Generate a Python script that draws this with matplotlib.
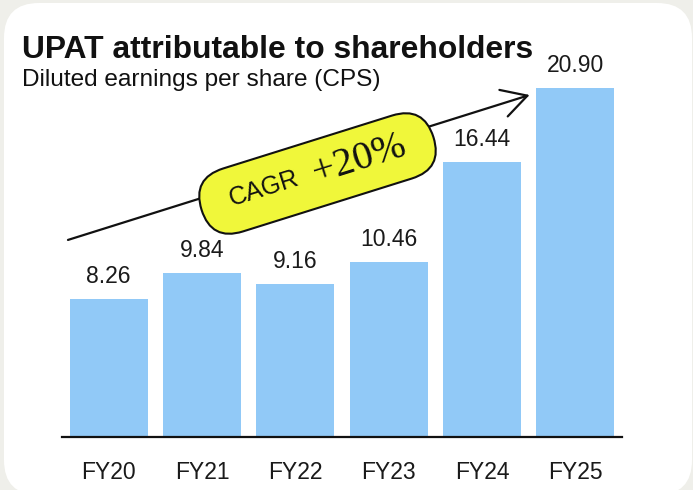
import matplotlib.pyplot as plt
from matplotlib.patches import FancyBboxPatch
from matplotlib.transforms import Affine2D

# data
years = ['FY20', 'FY21', 'FY22', 'FY23', 'FY24', 'FY25']
eps = [8.26, 9.84, 9.16, 10.46, 16.44, 20.90]
eps_labels = ['8.26', '9.84', '9.16', '10.46', '16.44', '20.90']

W, H = 693, 490
plt.rcParams['font.family'] = ['Liberation Sans', 'DejaVu Sans']

fig = plt.figure(figsize=(W / 100, H / 100), dpi=100)
fig.patch.set_facecolor('#efefea')

# white card behind everything
card = FancyBboxPatch((4, H - 495), 688, 492, boxstyle='round,pad=0,rounding_size=35',
                      transform=None, facecolor='white', edgecolor='none', zorder=-5)
fig.patches.append(card)

ax = fig.add_axes([62 / W, (H - 437) / H, 560 / W, 397 / H])
ax.set_facecolor('none')
ax.bar(range(len(years)), eps, width=0.836, color='#91c9f7', zorder=2)
ax.set_xlim(-0.5, 5.5)
ax.set_ylim(0, 397 / 16.7)

for i, (v, lab) in enumerate(zip(eps, eps_labels)):
    ax.annotate(lab, (i, v), xytext=(0, 8), textcoords='offset points',
                ha='center', va='bottom', fontsize=16.5, color='#1a1a1a')

ax.set_xticks(range(len(years)))
ax.set_xticklabels(years, fontsize=16.5, color='#1a1a1a')
ax.tick_params(axis='x', length=0, pad=17)
ax.set_yticks([])
for s in ['top', 'right', 'left']:
    ax.spines[s].set_visible(False)
ax.spines['bottom'].set_linewidth(1.6)
ax.spines['bottom'].set_color('#111111')

# trend arrow
ax.annotate('', xy=(4.51, 20.48), xytext=(-0.436, 11.8),
            arrowprops=dict(arrowstyle='->,head_length=0.9,head_width=0.5',
                            mutation_scale=20, lw=1.6, color='#111111',
                            shrinkA=0, shrinkB=0), zorder=3)

# CAGR badge
cx, cy, ang = 317.5, H - 173.5, 17.4
rot = Affine2D().rotate_deg_around(cx, cy, ang)
pill = FancyBboxPatch((cx - 121.5, cy - 33), 243, 66, boxstyle='round,pad=0,rounding_size=33',
                      transform=rot, facecolor='#f0f73a', edgecolor='#111111', lw=1.5, zorder=4)
fig.patches.append(pill)
fig.text(264 / W, (H - 189) / H, 'CAGR', fontsize=18, rotation=ang, rotation_mode='anchor',
         ha='center', va='center', color='#111111', zorder=5)
fig.text(359 / W, (H - 160) / H, '+20%', fontsize=29, family='Liberation Serif', rotation=ang,
         rotation_mode='anchor', ha='center', va='center', color='#111111', zorder=5)

# titles
fig.text(22 / W, (H - 50) / H, 'UPAT attributable to shareholders', fontsize=22.9,
         fontweight='bold', ha='left', va='center', color='#111111')
fig.text(22 / W, (H - 80) / H, 'Diluted earnings per share (CPS)', fontsize=17.6,
         ha='left', va='center', color='#111111')

fig.savefig('out.png', dpi=100, facecolor=fig.get_facecolor())
